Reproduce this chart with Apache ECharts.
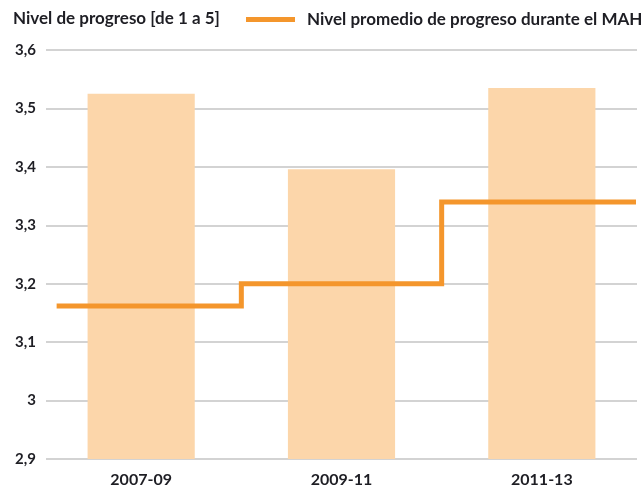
<!DOCTYPE html>
<html lang="es">
<head>
	<meta charset="UTF-8">
	<title>Nivel de progreso</title>
	<style>body{margin:0;background:#fff;}</style>
</head>
<body>
<div id="chart" style="width:642px;height:492px;"></div>
<script src="https://cdn.jsdelivr.net/npm/echarts@6/dist/echarts.min.js"></script>
<script>
// datos
var periods = ['2007-09', '2009-11', '2011-13'];
var progressLevel = [3.525, 3.396, 3.535];
var mahLevel = [3.162, 3.2, 3.34];
var yMin = 2.9, yMax = 3.6, yStep = 0.1;
// where the step line begins/ends, in category units (0..3)
var stepStart = 0.078, stepEnd = 2.97;

var font = 'Lato, "Liberation Sans", sans-serif';
var ink = '#1e1e24';

// construir la línea escalonada a partir de los niveles
var stepData = mahLevel.map(function (v, i) {
	return [i === 0 ? stepStart : i, v];
});
stepData.push([stepEnd, mahLevel[mahLevel.length - 1]]);

var myChart = echarts.init(document.getElementById('chart'));

var option = {
	animation: false,
	title: {
		text: 'Nivel de progreso [de 1 a 5]',
		left: 8, top: 5,
		textStyle: {fontFamily: font, fontSize: 17, fontWeight: 'bold', color: ink}
	},
	legend: {
		data: ['Nivel promedio de progreso durante el MAH'],
		left: 241, top: 6,
		icon: 'rect', itemWidth: 49, itemHeight: 5,
		textStyle: {fontFamily: font, fontSize: 17, fontWeight: 'bold', color: ink, padding: [0, 0, 0, 7]}
	},
	grid: [
		{left: 46, right: 5, top: 50, bottom: 33},
		{left: 41, right: -1, top: 50, bottom: 33}
	],
	xAxis: [
		{gridIndex: 0, type: 'value', show: false, min: 0, max: 1},
		{
			gridIndex: 1, type: 'category', data: periods,
			axisLine: {show: false}, axisTick: {show: false},
			axisLabel: {fontFamily: font, fontSize: 16, fontWeight: 'bold', color: ink, margin: 13}
		},
		{gridIndex: 1, type: 'value', show: false, min: 0, max: periods.length}
	],
	yAxis: [
		{
			gridIndex: 0, type: 'value', min: yMin, max: yMax, interval: yStep,
			axisLine: {show: false}, axisTick: {show: false},
			splitLine: {lineStyle: {color: '#c4c4c4', width: 1.5}},
			axisLabel: {
				fontFamily: font, fontSize: 15, fontWeight: 'bold', color: ink, margin: 10,
				formatter: function (v) { return String(+v.toFixed(1)).replace('.', ','); }
			}
		},
		{gridIndex: 1, type: 'value', show: false, min: yMin, max: yMax}
	],
	series: [
		{
			name: 'Nivel de progreso',
			type: 'bar',
			xAxisIndex: 1, yAxisIndex: 1,
			barWidth: '53.5%',
			itemStyle: {color: '#fcd6aa'},
			data: progressLevel
		},
		{
			name: 'Nivel promedio de progreso durante el MAH',
			type: 'line',
			xAxisIndex: 2, yAxisIndex: 1,
			step: 'end',
			symbol: 'none',
			lineStyle: {color: '#f4962c', width: 5, cap: 'butt', join: 'miter'},
			itemStyle: {color: '#f4962c'},
			z: 5,
			data: stepData
		}
	]
};
myChart.setOption(option);
</script>
</body>
</html>
